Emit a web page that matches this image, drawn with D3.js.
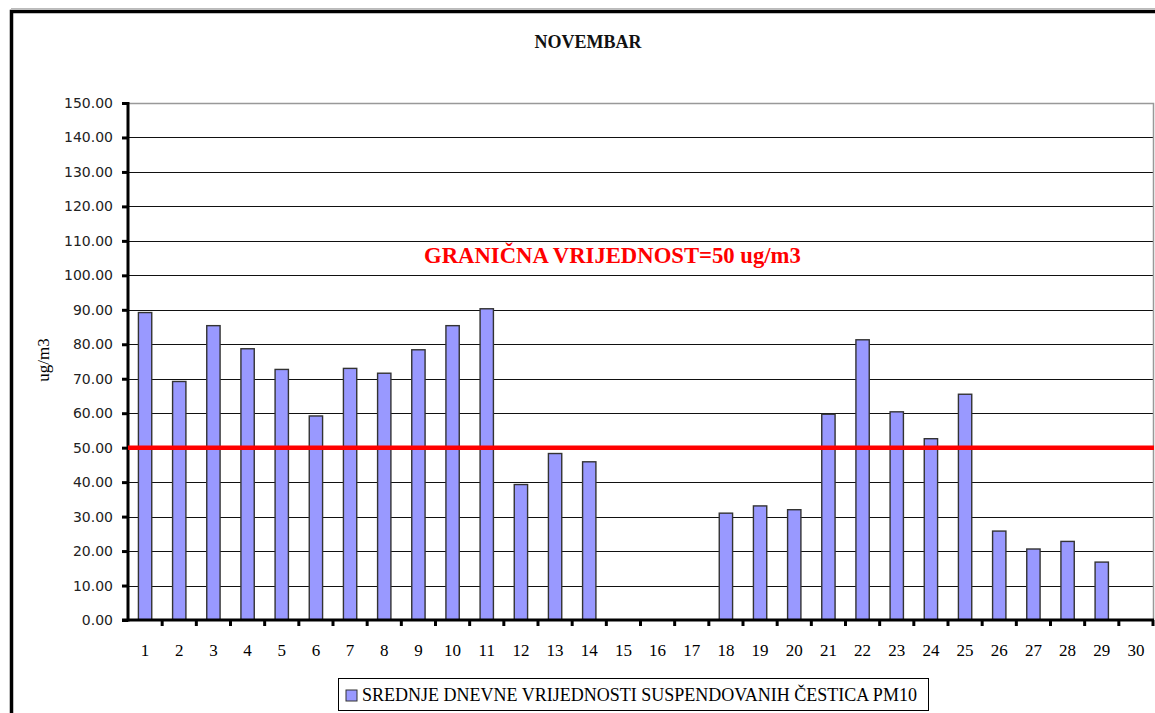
<!DOCTYPE html>
<html>
<head>
<meta charset="utf-8">
<script src="https://cdn.jsdelivr.net/npm/d3@7"></script>
<style>
  body { margin: 0; background: #fff; }
</style>
</head>
<body>
<div class="visHolder"></div>
<script>
var days = d3.range(1, 31).map(String);
var pm10 = [89.2, 69.2, 85.4, 78.7, 72.7, 59.2, 73.0, 71.6, 78.4, 85.4,
            90.3, 39.3, 48.3, 45.9, null, null, null, 31.0, 33.1, 32.0,
            59.7, 81.3, 60.4, 52.6, 65.5, 25.8, 20.6, 22.8, 16.8, null];
var yTicks = [0, 10, 20, 30, 40, 50, 60, 70, 80, 90, 100, 110, 120, 130, 140, 150];
var limitValue = 50;
var titleText = "NOVEMBAR";
var yTitle = "ug/m3";
var limitLabel = "GRANIČNA VRIJEDNOST=50 ug/m3";
var legendLabel = "SREDNJE DNEVNE VRIJEDNOSTI SUSPENDOVANIH ČESTICA PM10";

var W = 1155, H = 713;
var plotL = 128, plotR = 1153, plotT = 103, plotB = 620;

var svg = d3.select(".visHolder")
    .append("svg")
    .attr("width", W)
    .attr("height", H)
    .style("display", "block");

// outer frame (cut off at right and bottom)
svg.append("line").attr("x1", 11).attr("x2", W).attr("y1", 8.5).attr("y2", 8.5)
    .style("stroke", "#bbb").style("stroke-width", 1);
svg.append("path")
    .attr("d", `M11.5,${H} V11.5 H${W}`)
    .style("fill", "none")
    .style("stroke", "#000")
    .style("stroke-width", 3.5);

var x = d3.scaleBand().domain(days).range([plotL, plotR]).padding(0);
var y = d3.scaleLinear().domain([0, 150]).range([plotB, plotT]);

// gridlines
svg.append("g")
    .selectAll("line")
    .data(yTicks.filter((d) => d > 0 && d < 150))
    .enter()
    .append("line")
    .attr("x1", plotL)
    .attr("x2", plotR)
    .attr("y1", (d) => Math.round(y(d)) + 0.5)
    .attr("y2", (d) => Math.round(y(d)) + 0.5)
    .style("stroke", "#111")
    .style("stroke-width", 1.2);

// plot area top and right border (grey)
svg.append("path")
    .attr("d", `M${plotL},${Math.round(y(150)) + 0.5} H${plotR + 0.5} V${plotB}`)
    .style("fill", "none")
    .style("stroke", "#999")
    .style("stroke-width", 1.5);

// bars
var barW = x.bandwidth() * 0.39;
svg.append("g")
    .selectAll("rect")
    .data(days.map((d, i) => ({ day: d, v: pm10[i] })).filter((d) => d.v != null))
    .enter()
    .append("rect")
    .attr("x", (d) => x(d.day) + (x.bandwidth() - barW) / 2)
    .attr("y", (d) => y(d.v))
    .attr("width", barW)
    .attr("height", (d) => y(0) - y(d.v))
    .style("fill", "#9999ff")
    .style("stroke", "#333")
    .style("stroke-width", 1.4);

// y axis
var yAxis = svg.append("g")
    .attr("transform", `translate(${plotL},0)`)
    .call(d3.axisLeft(y).tickValues(yTicks).tickFormat(d3.format(".2f")).tickSize(6).tickPadding(9));
yAxis.select(".domain").remove();
yAxis.selectAll(".tick line").style("stroke", "#000").style("stroke-width", 3);
yAxis.selectAll("text")
    .style("font-family", "DejaVu Sans, sans-serif")
    .style("font-size", "14px")
    .style("fill", "#222");
svg.append("line")
    .attr("x1", plotL).attr("x2", plotL)
    .attr("y1", plotT - 1).attr("y2", plotB + 1.5)
    .style("stroke", "#000").style("stroke-width", 3);

// x axis
var xAxis = svg.append("g")
    .attr("transform", `translate(0,${plotB})`)
    .call(d3.axisBottom(x).tickSize(0).tickPadding(24));
xAxis.select(".domain").remove();
xAxis.selectAll("text")
    .style("font-family", "Liberation Serif, Times New Roman, serif")
    .style("font-size", "17px")
    .style("fill", "#000");
svg.append("g")
    .selectAll("line")
    .data(days.slice(1).concat(["end"]))
    .enter()
    .append("line")
    .attr("x1", (d) => d === "end" ? plotR : x(d))
    .attr("x2", (d) => d === "end" ? plotR : x(d))
    .attr("y1", plotB)
    .attr("y2", plotB + 6)
    .style("stroke", "#000")
    .style("stroke-width", 3);
svg.append("line")
    .attr("x1", plotL - 6).attr("x2", plotR + 1)
    .attr("y1", plotB).attr("y2", plotB)
    .style("stroke", "#000").style("stroke-width", 3);

// limit line
svg.append("line")
    .attr("x1", plotL)
    .attr("x2", plotR + 1)
    .attr("y1", y(limitValue))
    .attr("y2", y(limitValue))
    .style("stroke", "#ff0000")
    .style("stroke-width", 4.5);

svg.append("text")
    .text(limitLabel)
    .attr("x", 424)
    .attr("y", 263)
    .style("font-family", "Liberation Serif, Times New Roman, serif")
    .style("font-weight", "bold")
    .style("font-size", "22.7px")
    .style("fill", "#ff0000");

// title
svg.append("text")
    .text(titleText)
    .attr("x", 588)
    .attr("y", 48)
    .style("text-anchor", "middle")
    .style("font-family", "Liberation Serif, Times New Roman, serif")
    .style("font-weight", "bold")
    .style("font-size", "18px")
    .style("fill", "#111");

// y title
svg.append("text")
    .text(yTitle)
    .attr("transform", "translate(49,360) rotate(-90)")
    .style("text-anchor", "middle")
    .style("font-family", "Liberation Serif, Times New Roman, serif")
    .style("font-size", "17px")
    .style("fill", "#000");

// legend
var legend = svg.append("g").attr("id", "legend");
legend.append("rect")
    .attr("x", 338.5).attr("y", 678.5)
    .attr("width", 590).attr("height", 32)
    .style("fill", "#fff").style("stroke", "#000").style("stroke-width", 1);
legend.append("rect")
    .attr("x", 346).attr("y", 690)
    .attr("width", 11).attr("height", 11)
    .style("fill", "#9999ff").style("stroke", "#333").style("stroke-width", 1);
legend.append("text")
    .text(legendLabel)
    .attr("x", 362)
    .attr("y", 701)
    .style("font-family", "Liberation Serif, Times New Roman, serif")
    .style("font-size", "18px")
    .style("fill", "#000");
</script>
</body>
</html>
